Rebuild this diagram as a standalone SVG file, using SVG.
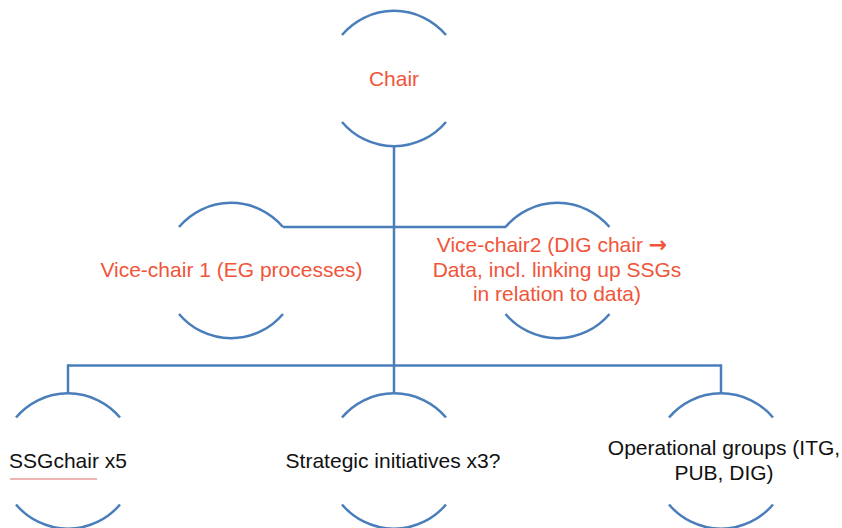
<svg xmlns="http://www.w3.org/2000/svg" width="842" height="528" viewBox="0 0 842 528">
<style>
.arc{fill:none;stroke:#4a7ebb;stroke-width:2.5}
.con{fill:none;stroke:#4a7ebb;stroke-width:2.5}
.t{font-family:"Liberation Sans",Arial,sans-serif;font-size:21px;text-anchor:middle}
.red{fill:#f0553a}
.blk{fill:#111111}
.arr{font-family:"DejaVu Sans",sans-serif;font-weight:bold;font-size:22px}
</style>
<rect width="842" height="528" fill="#ffffff"/>
<g id="connectors">
<path class="con" d="M394,146 V392"/>
<path class="con" d="M283,227 H506"/>
<path class="con" d="M68,365.5 H721"/>
<path class="con" d="M68,364.3 V393"/>
<path class="con" d="M721,364.3 V393"/>
</g>
<g id="chair">
<path class="arc" d="M342,35 A68,68 0 0 1 446,35"/>
<path class="arc" d="M342,122 A68,68 0 0 0 446,122"/>
<text class="t red" x="394" y="86">Chair</text>
</g>
<g id="vice1">
<path class="arc" d="M179,227 A68,68 0 0 1 283,227"/>
<path class="arc" d="M179,314 A68,68 0 0 0 283,314"/>
<text class="t red" x="231.5" y="277">Vice-chair 1 (EG processes)</text>
</g>
<g id="vice2">
<path class="arc" d="M505.5,227 A68,68 0 0 1 609.5,227"/>
<path class="arc" d="M505.5,314 A68,68 0 0 0 609.5,314"/>
<text class="t red" x="552" y="252">Vice-chair2 (DIG chair <tspan class="arr">→</tspan></text>
<text class="t red" x="557" y="277">Data, incl. linking up SSGs</text>
<text class="t red" x="557" y="301">in relation to data)</text>
</g>
<g id="ssg">
<path class="arc" d="M16,417.5 A68,68 0 0 1 120,417.5"/>
<path class="arc" d="M16,504.5 A68,68 0 0 0 120,504.5"/>
<text class="t blk" x="68" y="468">SSGchair x5</text>
<line x1="10" y1="479" x2="97" y2="479" stroke="#e06a6a" stroke-width="1"/>
</g>
<g id="strategic">
<path class="arc" d="M342,417.5 A68,68 0 0 1 446,417.5"/>
<path class="arc" d="M342,504.5 A68,68 0 0 0 446,504.5"/>
<text class="t blk" x="393" y="468">Strategic initiatives x3?</text>
</g>
<g id="operational">
<path class="arc" d="M669,417.5 A68,68 0 0 1 773,417.5"/>
<path class="arc" d="M669,504.5 A68,68 0 0 0 773,504.5"/>
<text class="t blk" x="724" y="455">Operational groups (ITG,</text>
<text class="t blk" x="724" y="480">PUB, DIG)</text>
</g>
</svg>
